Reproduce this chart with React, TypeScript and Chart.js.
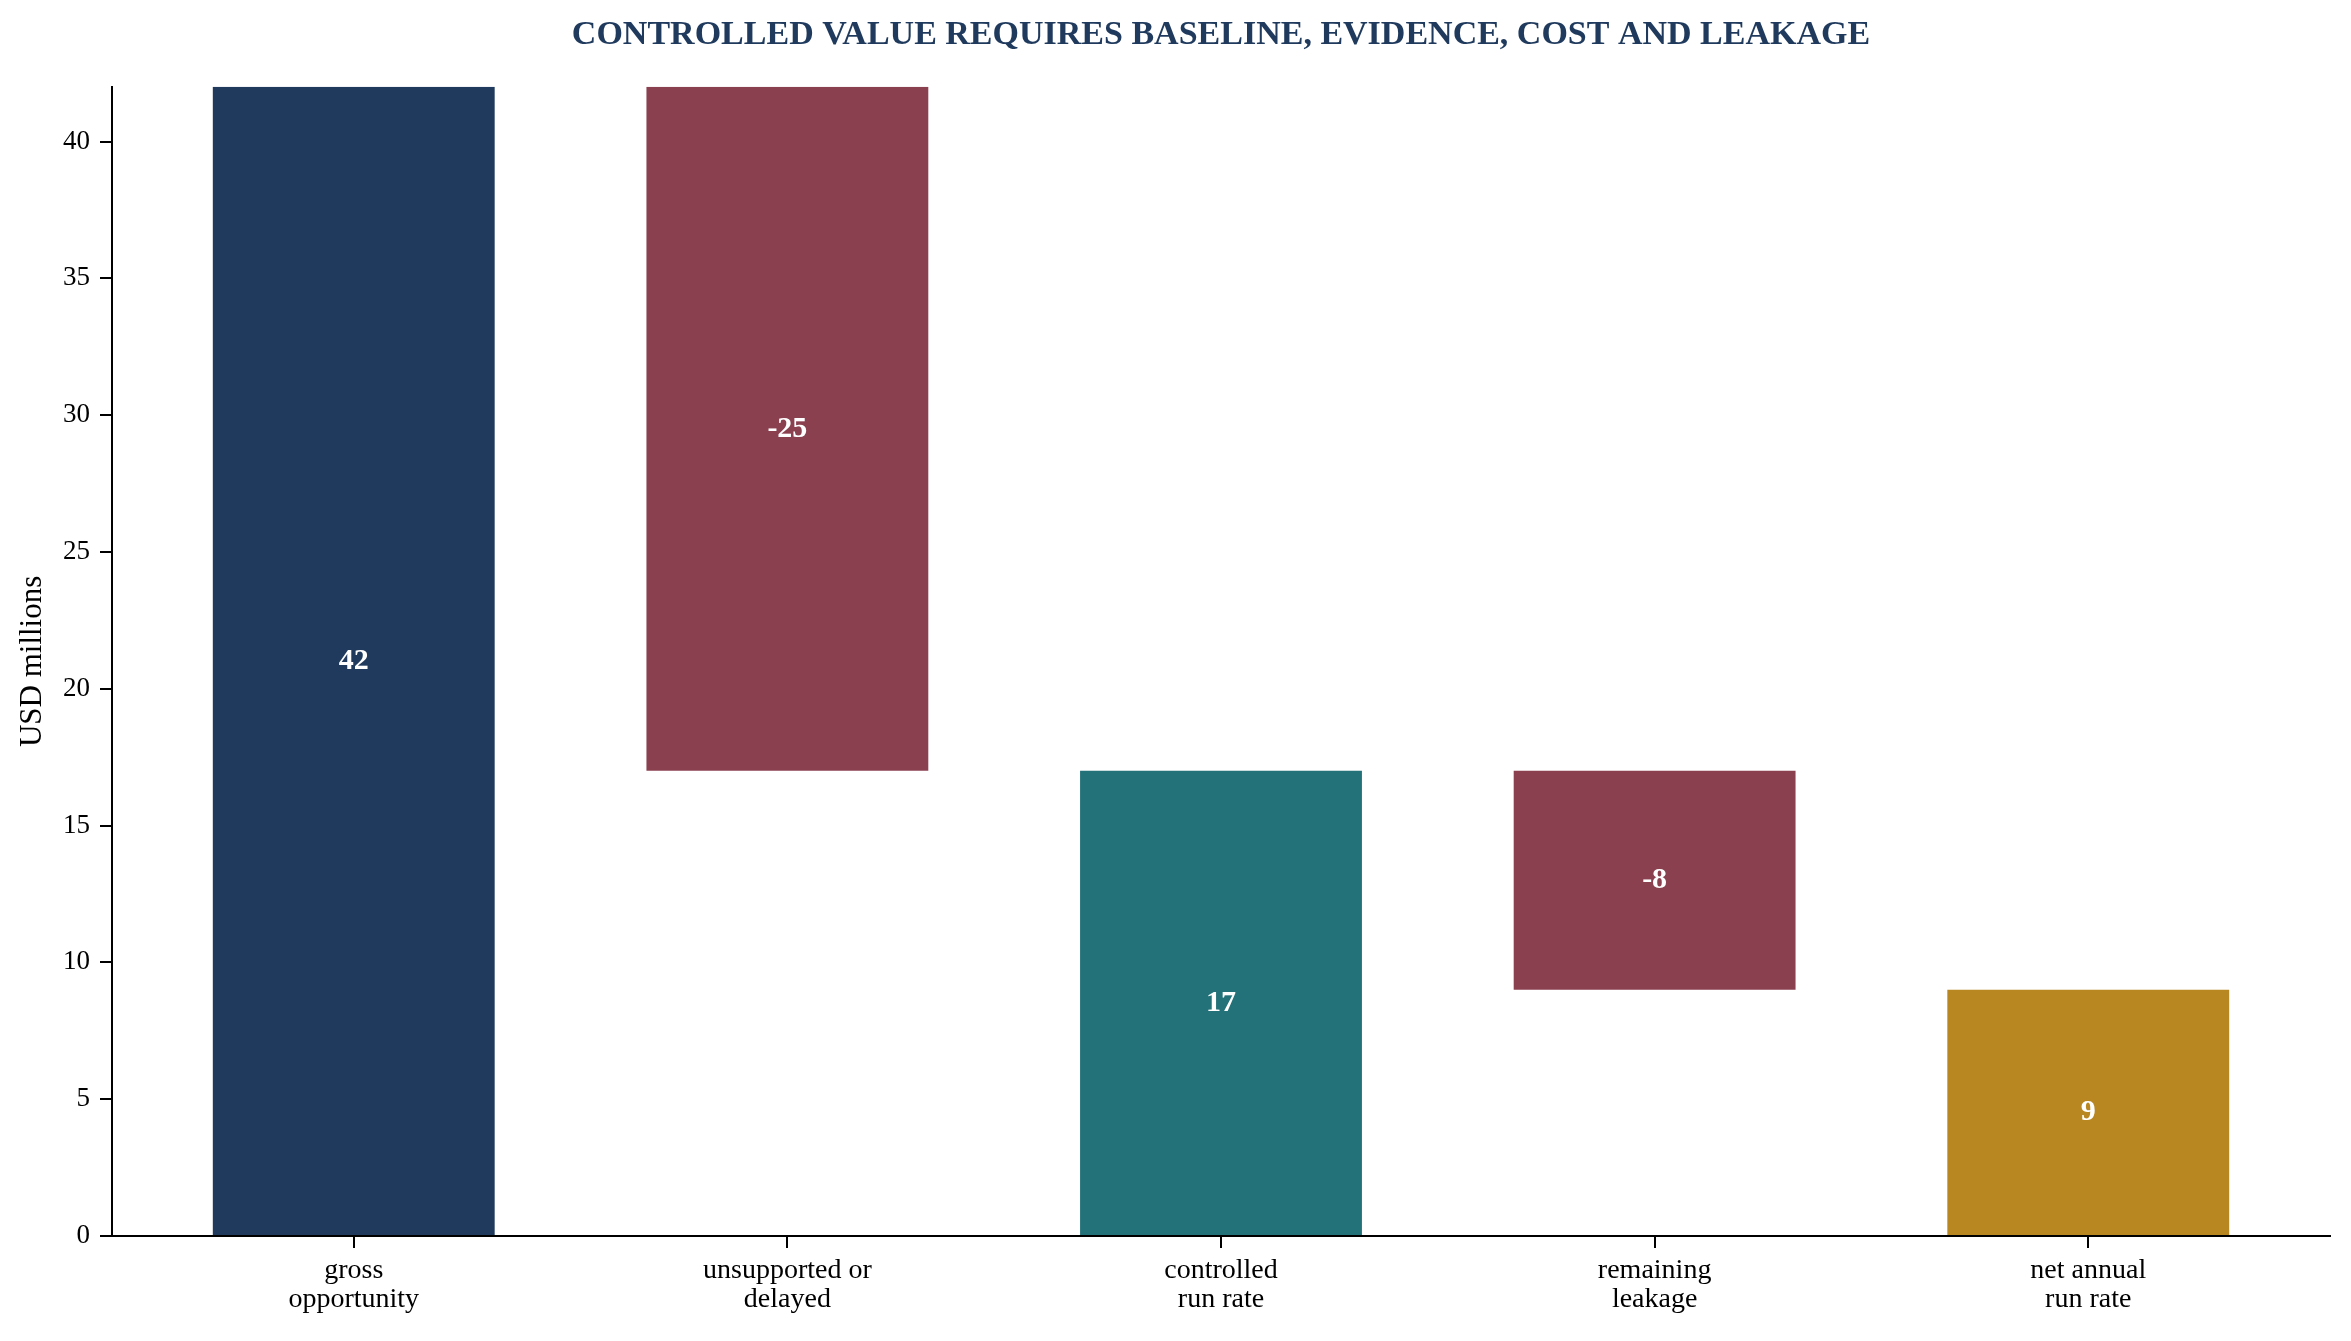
import { useEffect, useRef } from 'react';
import { Chart, registerables } from 'chart.js';

Chart.register(...registerables);

// waterfall steps
const categories: string[][] = [
    ['gross', 'opportunity'],
    ['unsupported or', 'delayed'],
    ['controlled', 'run rate'],
    ['remaining', 'leakage'],
    ['net annual', 'run rate'],
];
const values: number[] = [42, -25, 17, -8, 9];
const kinds: ('total' | 'delta')[] = ['total', 'delta', 'total', 'delta', 'total'];
const barColors: string[] = ['#1f3a5d', '#8b4050', '#237179', '#8b4050', '#b88721'];
const yTicks: number[] = [0, 5, 10, 15, 20, 25, 30, 35, 40];

const FONT = '"Liberation Serif", "Times New Roman", serif';

// floating [low, high] ranges built from the running total
function buildRanges() {
    let running = 0;
    return values.map((v, i) => {
        if (kinds[i] === 'total') {
            running = v;
            return { x: i, y: [0, v] };
        }
        const prev = running;
        running = prev + v;
        return { x: i, y: [running, prev] };
    });
}

const barLabels = {
    id: 'barLabels',
    afterDatasetsDraw(chart: Chart) {
        const { ctx } = chart;
        const meta = chart.getDatasetMeta(0);
        ctx.save();
        ctx.fillStyle = '#ffffff';
        ctx.font = `bold 30px ${FONT}`;
        ctx.textAlign = 'center';
        ctx.textBaseline = 'middle';
        meta.data.forEach((el: any, i) => {
            const mid = (el.y + el.base) / 2;
            ctx.fillText(String(values[i]), el.x, mid);
        });
        ctx.restore();
    },
};

export default function App() {
    const chartRef = useRef<HTMLCanvasElement>(null);
    const chartInstance = useRef<Chart | null>(null);

    useEffect(() => {
        document.body.style.margin = '0';
        if (!chartRef.current) return;
        if (chartInstance.current) chartInstance.current.destroy();

        const ctx = chartRef.current.getContext('2d');
        if (!ctx) return;

        const halfWidth = 0.325;
        const margin = (values.length - 1 + 2 * halfWidth) * 0.05;

        chartInstance.current = new Chart(ctx, {
            type: 'bar',
            data: {
                datasets: [{
                    data: buildRanges() as any,
                    backgroundColor: barColors,
                    borderWidth: 0,
                    barPercentage: 0.65,
                    categoryPercentage: 1,
                }],
            },
            plugins: [barLabels],
            options: {
                animation: false,
                responsive: false,
                devicePixelRatio: 1,
                layout: { padding: { left: 0, right: 21, top: 0, bottom: 0 } },
                plugins: {
                    legend: { display: false },
                    tooltip: { enabled: false },
                    title: {
                        display: true,
                        fullSize: false,
                        text: 'CONTROLLED VALUE REQUIRES BASELINE, EVIDENCE, COST AND LEAKAGE',
                        color: '#1f3a5d',
                        font: { family: FONT, size: 34, weight: 'bold', lineHeight: 1.2 },
                        padding: { top: 15, bottom: 31 },
                    },
                },
                scales: {
                    x: {
                        type: 'linear',
                        offset: false,
                        min: -halfWidth - margin,
                        max: values.length - 1 + halfWidth + margin,
                        afterBuildTicks: (scale: any) => {
                            scale.ticks = categories.map((_, i) => ({ value: i }));
                        },
                        afterFit: (scale: any) => {
                            scale.height = 105;
                        },
                        ticks: {
                            stepSize: 1,
                            includeBounds: false,
                            autoSkip: false,
                            maxRotation: 0,
                            padding: 8,
                            color: '#000000',
                            font: { family: FONT, size: 28, lineHeight: 1.05 },
                            callback: (v: any) => categories[v] ?? '',
                        },
                        grid: {
                            display: true,
                            offset: false,
                            drawOnChartArea: false,
                            drawTicks: true,
                            tickLength: 12,
                            color: '#000000',
                            lineWidth: 2,
                        },
                        border: { display: true, color: '#000000', width: 2 },
                    },
                    y: {
                        min: 0,
                        max: 42,
                        afterBuildTicks: (scale: any) => {
                            scale.ticks = yTicks.map(v => ({ value: v }));
                        },
                        afterFit: (scale: any) => {
                            scale.width = 112;
                        },
                        ticks: {
                            stepSize: 5,
                            includeBounds: false,
                            padding: 10,
                            color: '#000000',
                            font: { family: FONT, size: 27 },
                        },
                        grid: {
                            display: true,
                            drawOnChartArea: false,
                            drawTicks: true,
                            tickLength: 12,
                            color: '#000000',
                            lineWidth: 2,
                        },
                        border: { display: true, color: '#000000', width: 2 },
                        title: {
                            display: true,
                            text: 'USD millions',
                            color: '#000000',
                            font: { family: FONT, size: 31 },
                            padding: { top: 14, bottom: 0 },
                        },
                    },
                },
            },
        });

        return () => {
            if (chartInstance.current) {
                chartInstance.current.destroy();
                chartInstance.current = null;
            }
        };
    }, []);

    return (
        <div style={{ width: 2351, height: 1341, background: '#ffffff' }}>
            <canvas ref={chartRef} width={2351} height={1341}></canvas>
        </div>
    );
}
